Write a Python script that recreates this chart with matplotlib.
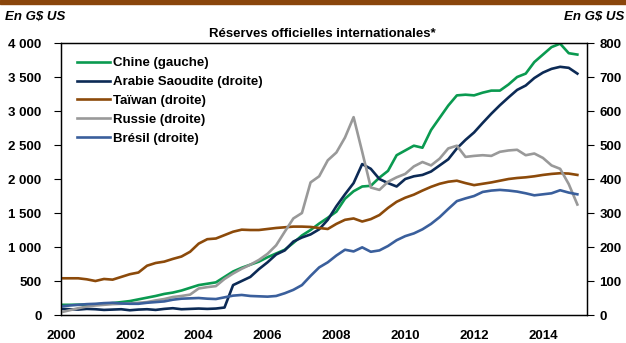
import numpy as np
import matplotlib
matplotlib.use("Agg")
import matplotlib.pyplot as plt
from matplotlib.patches import Rectangle
from matplotlib.ticker import FuncFormatter, MultipleLocator

plt.rcParams['font.family'] = ['Liberation Sans', 'DejaVu Sans']
plt.rcParams['font.weight'] = 'bold'

# quarterly points, 2000 Q1 .. 2015 Q1 (G$ US)
years = 2000 + np.arange(61) / 4

chine = [150, 150, 152, 152, 155, 165, 175, 190, 205, 230, 255, 280,
         310, 330, 360, 400, 440, 460, 480, 560, 640, 695, 740, 785,
         850, 905, 960, 1060, 1170, 1250, 1345, 1430, 1520, 1710, 1820, 1890,
         1900, 2020, 2120, 2350, 2420, 2490, 2460, 2720, 2900, 3080, 3230, 3240,
         3230, 3270, 3300, 3300, 3390, 3500, 3550, 3720, 3830, 3940, 3990, 3850,
         3830]

arabie = [18, 17, 16, 18, 17, 15, 16, 17, 14, 16, 17, 15,
          18, 20, 17, 18, 19, 18, 19, 22, 88, 100, 112, 135,
          155, 178, 190, 216, 228, 237, 252, 280, 320, 355, 388, 444,
          430, 400, 388, 378, 400, 408, 412, 422, 440, 458, 490, 515,
          537, 565, 592, 617, 640, 662, 675, 697, 713, 724, 730, 727,
          710]

taiwan = [108, 108, 108, 105, 100, 106, 104, 112, 120, 125, 145, 153,
          157, 165, 172, 186, 210, 223, 225, 235, 245, 251, 250, 250,
          253, 256, 258, 260, 260, 259, 256, 253, 268, 280, 284, 275,
          282, 294, 315, 333, 345, 354, 366, 377, 386, 392, 395, 388,
          382, 386, 390, 395, 400, 403, 405, 408, 412, 415, 417, 416,
          412]

russie = [8, 14, 20, 25, 28, 30, 32, 33, 34, 36, 38, 43,
          47, 53, 56, 60, 78, 82, 85, 106, 122, 136, 148, 162,
          180, 205, 245, 284, 300, 390, 408, 455, 478, 522, 582, 480,
          375, 368, 392, 405, 415, 437, 450, 440, 460, 490, 498, 465,
          468, 470, 468, 480, 484, 486, 470, 475, 462, 440, 430, 385,
          325]

bresil = [25, 28, 30, 32, 33, 35, 36, 34, 33, 33, 36, 38,
          40, 45, 48, 49, 50, 48, 47, 52, 57, 59, 56, 55,
          54, 56, 64, 74, 88, 115, 140, 155, 175, 192, 187, 199,
          186, 190, 203, 220, 232, 240, 252, 268, 288, 312, 335, 343,
          350, 362, 366, 368, 366, 363, 358, 352, 355, 358, 367, 360,
          355]

c_chine = '#0a9a50'
c_arabie = '#0c2a55'
c_taiwan = '#8c4a0a'
c_russie = '#999999'
c_bresil = '#3a5f9c'

fig = plt.figure(figsize=(6.26, 3.43), dpi=100)
ax = fig.add_axes([0.0974, 0.0816, 0.8403, 0.793])
ax2 = ax.twinx()

lw = 1.9
l1, = ax.plot(years, chine, color=c_chine, lw=lw, label='Chine (gauche)')
l2, = ax2.plot(years, arabie, color=c_arabie, lw=lw, label='Arabie Saoudite (droite)')
l3, = ax2.plot(years, taiwan, color=c_taiwan, lw=lw, label='Taïwan (droite)')
l4, = ax2.plot(years, russie, color=c_russie, lw=lw, label='Russie (droite)')
l5, = ax2.plot(years, bresil, color=c_bresil, lw=lw, label='Brésil (droite)')

ax.set_xlim(2000, 2015.28)
ax.set_ylim(0, 4000)
ax2.set_ylim(0, 800)
ax.xaxis.set_major_locator(MultipleLocator(2))
ax.yaxis.set_major_locator(MultipleLocator(500))
ax2.yaxis.set_major_locator(MultipleLocator(100))

fmt = FuncFormatter(lambda v, p: f"{v:,.0f}".replace(",", " "))
ax.yaxis.set_major_formatter(fmt)
ax.xaxis.set_major_formatter(FuncFormatter(lambda v, p: f"{v:.0f}"))

fs = 9.5
ax.tick_params(axis='y', direction='out', length=5, width=0.8, pad=9, labelsize=fs)
ax.tick_params(axis='x', length=0, pad=11, labelsize=fs)
ax2.tick_params(axis='y', direction='out', length=5, width=0.8, pad=4, labelsize=fs)
for a in (ax, ax2):
    for lab in a.get_xticklabels() + a.get_yticklabels():
        lab.set_fontweight('bold')
    for s in a.spines.values():
        s.set_linewidth(0.9)

leg = ax.legend(handles=[l1, l2, l3, l4, l5], loc='upper left',
                bbox_to_anchor=(0.03, 0.948), frameon=False, fontsize=fs,
                borderpad=0, borderaxespad=0, handlelength=2.5,
                handletextpad=0.25, labelspacing=0.5)
for t in leg.get_texts():
    t.set_fontweight('bold')

fig.text(0.515, 0.9, 'Réserves officielles internationales*', ha='center',
         va='center', fontsize=9.5, fontweight='bold')
fig.text(0.008, 0.95, 'En G$ US', ha='left', va='center', fontsize=9.5,
         fontweight='bold', style='italic')
fig.text(0.997, 0.95, 'En G$ US', ha='right', va='center', fontsize=9.5,
         fontweight='bold', style='italic')

# brown band at the very top
fig.patches.append(Rectangle((0, 0.988), 1, 0.012, transform=fig.transFigure,
                             color='#8a460c', zorder=0))

fig.savefig('out.png', dpi=100)
